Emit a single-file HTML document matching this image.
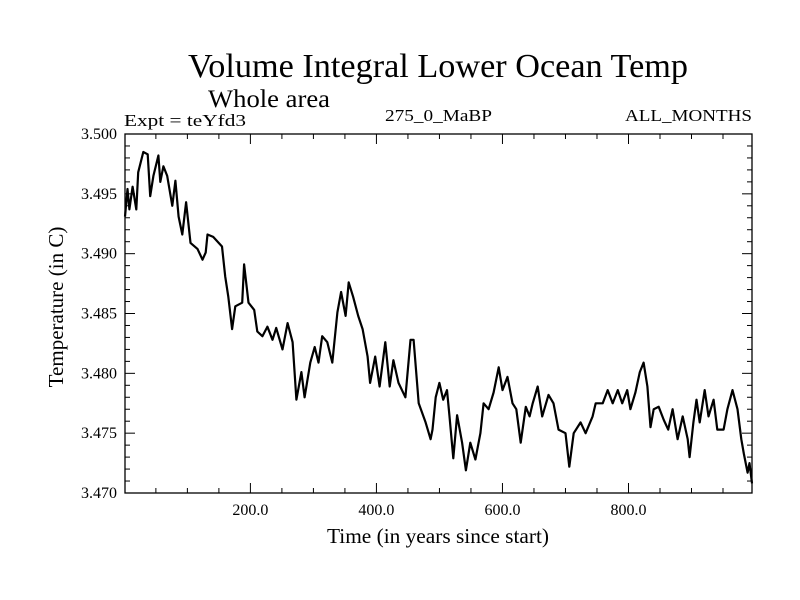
<!DOCTYPE html>
<html><head><meta charset="utf-8"><style>
body{margin:0;background:#fff}
svg{display:block}
text{font-family:"Liberation Serif",serif;fill:#000}
</style></head><body>
<svg id="chart" width="800" height="600" viewBox="0 0 800 600">
<text x="188" y="77" font-size="34" textLength="500" lengthAdjust="spacingAndGlyphs">Volume Integral Lower Ocean Temp</text>
<text x="208" y="107" font-size="25" textLength="122" lengthAdjust="spacingAndGlyphs">Whole area</text>
<text x="124" y="126" font-size="17" textLength="122" lengthAdjust="spacingAndGlyphs">Expt = teYfd3</text>
<text x="385" y="121" font-size="17" textLength="107" lengthAdjust="spacingAndGlyphs">275_0_MaBP</text>
<text x="625" y="121" font-size="17" textLength="127" lengthAdjust="spacingAndGlyphs">ALL_MONTHS</text>
<text x="327" y="543" font-size="21" textLength="222" lengthAdjust="spacingAndGlyphs">Time (in years since start)</text>
<text transform="translate(63,307) rotate(-90)" font-size="21" text-anchor="middle">Temperature (in C)</text>
<g id="axes"></g>
<g id="series"></g>
<rect x="125" y="134" width="627" height="359" fill="none" stroke="#000" stroke-width="1.3"/>
</svg>
<script>
const years=[1,5,8,13,19,22,30,37,41,46,54,57,62,68,76,81,86,92,98,105,116,124,129,132,141,155,160,165,171,176,187,190,197,206,211,219,227,235,241,251,259,267,273,281,286,295,302,308,314,322,330,338,344,351,356,363,371,378,386,390,398,405,414,421,427,435,446,454,459,467,478,486,489,494,500,506,512,516,522,528,536,542,549,557,565,570,578,586,594,600,608,616,622,629,637,643,648,656,663,673,681,689,700,706,713,724,732,743,748,759,767,775,783,790,798,803,811,818,824,830,835,840,848,856,863,870,878,886,894,897,903,908,913,921,927,935,941,951,957,965,973,979,983,989,992,996];
const temps=[3.4931,3.4954,3.4937,3.4956,3.4937,3.4968,3.4985,3.4983,3.4948,3.4965,3.4982,3.496,3.4973,3.4965,3.494,3.4961,3.4931,3.4916,3.4943,3.4909,3.4904,3.4895,3.4901,3.4916,3.4914,3.4906,3.4881,3.4864,3.4837,3.4856,3.4859,3.4891,3.4859,3.4853,3.4835,3.4831,3.4839,3.4828,3.4838,3.482,3.4842,3.4826,3.4778,3.4801,3.478,3.4809,3.4822,3.4809,3.4831,3.4826,3.4809,3.4851,3.4868,3.4848,3.4876,3.4864,3.4848,3.4837,3.4814,3.4792,3.4814,3.4789,3.4826,3.4789,3.4811,3.4792,3.478,3.4828,3.4828,3.4775,3.4759,3.4745,3.4753,3.478,3.4792,3.4778,3.4786,3.4764,3.4729,3.4765,3.4742,3.4719,3.4742,3.4728,3.475,3.4775,3.477,3.4784,3.4805,3.4786,3.4797,3.4775,3.477,3.4742,3.4772,3.4764,3.4775,3.4789,3.4764,3.4782,3.4775,3.4753,3.475,3.4722,3.475,3.4759,3.475,3.4764,3.4775,3.4775,3.4786,3.4775,3.4786,3.4775,3.4786,3.477,3.4784,3.4801,3.4809,3.4789,3.4755,3.477,3.4772,3.4761,3.4753,3.477,3.4745,3.4764,3.4745,3.473,3.4759,3.4778,3.4759,3.4786,3.4764,3.4778,3.4753,3.4753,3.477,3.4786,3.477,3.4745,3.4733,3.4717,3.4725,3.4708];
const xTicks=[200,400,600,800];
const xTickLabels=["200.0","400.0","600.0","800.0"];
const yTicks=[3.470,3.475,3.480,3.485,3.490,3.495,3.500];
const yTickLabels=["3.470","3.475","3.480","3.485","3.490","3.495","3.500"];
const NS="http://www.w3.org/2000/svg";
const L=125,R=752,T=134,B=493,XMIN=1,XMAX=996,YMIN=3.470,YMAX=3.500;
const sx=v=>L+(v-XMIN)/(XMAX-XMIN)*(R-L);
const sy=v=>B-(v-YMIN)/(YMAX-YMIN)*(B-T);
const axes=document.getElementById('axes');
function ln(x1,y1,x2,y2){const e=document.createElementNS(NS,'line');e.setAttribute('x1',x1);e.setAttribute('y1',y1);e.setAttribute('x2',x2);e.setAttribute('y2',y2);e.setAttribute('stroke','#000');e.setAttribute('stroke-width','1');axes.appendChild(e);return e;}
for(let v=50;v<XMAX;v+=50){const x=sx(v);const maj=v%200===0;const len=maj?10:5;
const a=ln(x,B,x,B-len);
const b=ln(x,T,x,T+len);}
for(let i=0;i<=30;i++){const v=YMIN+i*0.001;const y=sy(v);const maj=i%5===0;const len=maj?10:5;
const a=ln(L,y,L+len,y);
const b=ln(R,y,R-len,y);}
xTicks.forEach((v,i)=>{const t=document.createElementNS(NS,'text');t.setAttribute('x',sx(v));t.setAttribute('y',B+22);t.setAttribute('font-size','16');t.setAttribute('text-anchor','middle');t.textContent=xTickLabels[i];


axes.appendChild(t);});
yTicks.forEach((v,i)=>{const t=document.createElementNS(NS,'text');t.setAttribute('x',L-8);t.setAttribute('y',sy(v)+5);t.setAttribute('font-size','16');t.setAttribute('text-anchor','end');t.textContent=yTickLabels[i];


axes.appendChild(t);});
const p=document.createElementNS(NS,'path');
p.setAttribute('d',years.map((y,i)=>(i?'L':'M')+sx(y).toFixed(1)+','+sy(temps[i]).toFixed(1)).join(''));
p.setAttribute('fill','none');p.setAttribute('stroke','#000');p.setAttribute('stroke-width','2.2');p.setAttribute('stroke-linejoin','round');


document.getElementById('series').appendChild(p);
</script>
</body></html>
